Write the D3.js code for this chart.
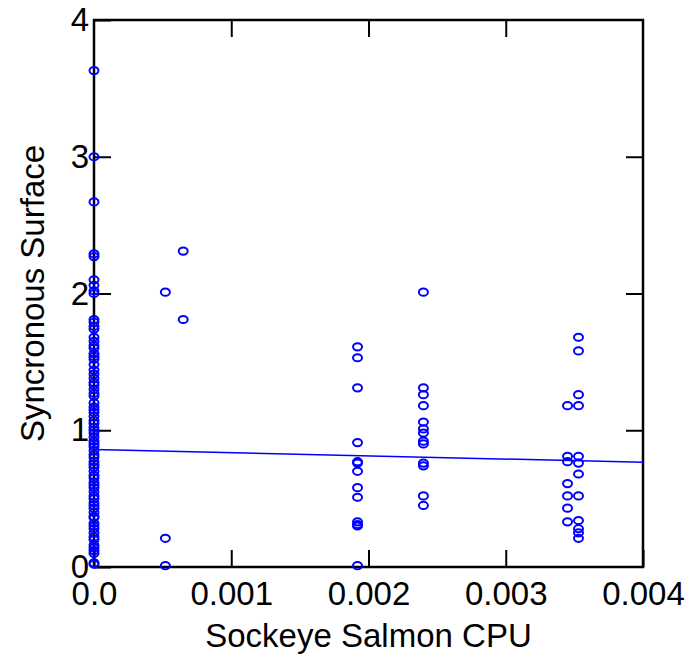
<!DOCTYPE html>
<html>
<head>
<meta charset="utf-8">
<script src="https://cdn.jsdelivr.net/npm/d3@7"></script>
<style>
  body { margin: 0; background: #fff; }
  text { font-family: "Liberation Sans", Arial, sans-serif; fill: #000; }
</style>
</head>
<body>
<div id="chart"></div>
<script>
// columns of observations: x value and the y values read at that x
const xGroups = [0, 0.00052, 0.00065, 0.00192, 0.0024, 0.00345, 0.00353];
const yGroups = [
  [3.63, 3.0, 2.67, 2.29, 2.27, 2.1, 2.06, 2.02, 2.0,
   1.81, 1.79, 1.76, 1.74, 1.68, 1.65, 1.62, 1.6, 1.56, 1.54, 1.52, 1.48, 1.44,
   1.41, 1.38, 1.35, 1.33, 1.3, 1.27, 1.25, 1.2, 1.17, 1.15, 1.13, 1.1, 1.07,
   1.05, 1.02, 1.0, 0.98, 0.95, 0.92, 0.9, 0.88, 0.85, 0.82, 0.8, 0.77, 0.75,
   0.73, 0.7, 0.67, 0.65, 0.62, 0.6, 0.58, 0.55, 0.52, 0.5, 0.47, 0.45, 0.43,
   0.4, 0.37, 0.36, 0.32, 0.3, 0.28, 0.25, 0.22, 0.2, 0.16, 0.14, 0.12, 0.1,
   0.03, 0.02],
  [2.01, 0.21, 0.01],
  [2.31, 1.81],
  [1.61, 1.53, 1.31, 0.91, 0.77, 0.76, 0.7, 0.58, 0.51, 0.33, 0.31, 0.3, 0.01],
  [2.01, 1.31, 1.26, 1.18, 1.06, 1.01, 0.98, 0.92, 0.9, 0.76, 0.74, 0.52, 0.45],
  [1.18, 0.81, 0.77, 0.61, 0.52, 0.43, 0.33],
  [1.68, 1.58, 1.26, 1.18, 0.81, 0.76, 0.68, 0.52, 0.34, 0.28, 0.25, 0.21]
];
// fitted line end points
const fitX = [0, 0.004];
const fitY = [0.86, 0.766];

const xTicks = [0, 0.001, 0.002, 0.003, 0.004];
const xTickLabels = ["0.0", "0.001", "0.002", "0.003", "0.004"];
const yTicks = [0, 1, 2, 3, 4];

const points = [];
xGroups.forEach((xv, i) => yGroups[i].forEach(yv => points.push({x: xv, y: yv})));

const margin = {top: 20, right: 45, bottom: 91, left: 94},
  width = 688 - margin.left - margin.right,
  height = 658 - margin.top - margin.bottom;

const svg = d3.select("#chart").append("svg")
    .attr("width", 688)
    .attr("height", 658)
  .append("g")
    .attr("transform", "translate(" + margin.left + "," + margin.top + ")");

const x = d3.scaleLinear().domain([0, 0.004]).range([0, width]);
const y = d3.scaleLinear().domain([0, 4]).range([height, 0]);

const tickLen = 17;

// bottom + top ticks (inward)
svg.append("g")
    .attr("transform", "translate(0," + height + ")")
    .call(d3.axisBottom(x).tickValues(xTicks).tickSize(-tickLen).tickPadding(15)
      .tickFormat((d, i) => xTickLabels[i]));
svg.append("g")
    .call(d3.axisTop(x).tickValues(xTicks.slice(1, -1)).tickSize(-tickLen).tickFormat(""));

svg.append("g")
    .call(d3.axisLeft(y).tickValues(yTicks).tickSize(-tickLen).tickPadding(5).tickFormat(d3.format("d")));
svg.append("g")
    .attr("transform", "translate(" + width + ",0)")
    .call(d3.axisRight(y).tickValues(yTicks.slice(1, -1)).tickSize(-tickLen).tickFormat(""));

svg.selectAll(".domain").remove();
svg.selectAll(".tick line").attr("stroke", "#000").attr("stroke-width", 2);
svg.selectAll(".tick text").style("font-size", "33px").attr("fill", "#000");

// frame
svg.append("rect")
    .attr("width", width)
    .attr("height", height)
    .attr("fill", "none")
    .attr("stroke", "#000")
    .attr("stroke-width", 2.5);

// regression line
const line = d3.line().x(d => x(d[0])).y(d => y(d[1]));
svg.append("path")
    .datum(fitX.map((v, i) => [v, fitY[i]]))
    .attr("d", line)
    .attr("fill", "none")
    .attr("stroke", "#0000ff")
    .attr("stroke-width", 1.5);

// points
svg.append("g")
  .selectAll("ellipse")
    .data(points)
  .enter().append("ellipse")
    .attr("cx", d => x(d.x))
    .attr("cy", d => y(d.y))
    .attr("rx", 4.5)
    .attr("ry", 3.6)
    .attr("fill", "none")
    .attr("stroke", "#0000ff")
    .attr("stroke-width", 2);

// axis titles
svg.append("text")
    .attr("x", width / 2)
    .attr("y", height + 80)
    .attr("text-anchor", "middle")
    .style("font-size", "33px")
    .text("Sockeye Salmon CPU");

svg.append("text")
    .attr("transform", "translate(" + (-50) + "," + (height / 2) + ") rotate(-90)")
    .attr("text-anchor", "middle")
    .style("font-size", "33px")
    .text("Syncronous Surface");
</script>
</body>
</html>
